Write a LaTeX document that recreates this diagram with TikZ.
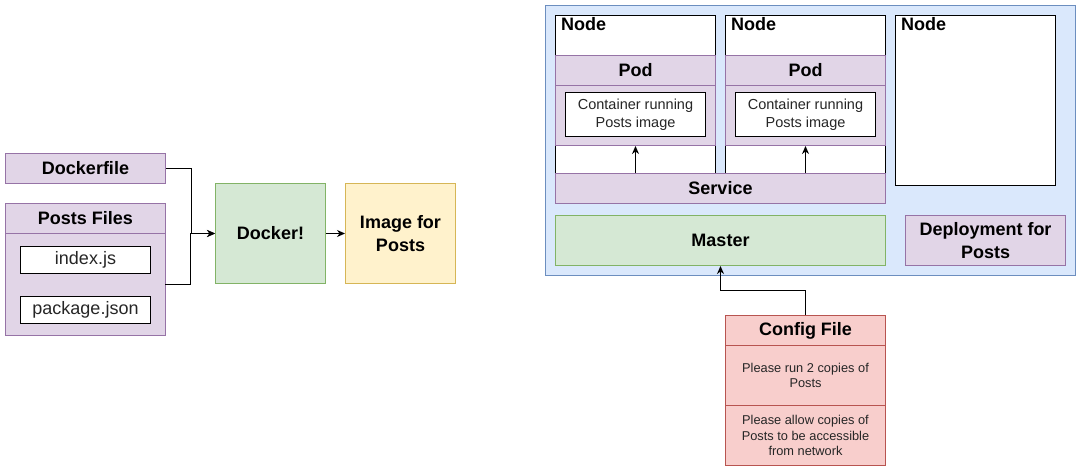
\documentclass[tikz,border=0pt]{standalone}
\usepackage{fontspec}
\setmainfont{Liberation Sans}
\usetikzlibrary{arrows.meta}

\definecolor{purpleFill}{HTML}{E1D5E7}
\definecolor{purpleLine}{HTML}{9673A6}
\definecolor{greenFill}{HTML}{D5E8D4}
\definecolor{greenLine}{HTML}{82B366}
\definecolor{yellowFill}{HTML}{FFF2CC}
\definecolor{yellowLine}{HTML}{D6B656}
\definecolor{blueFill}{HTML}{DAE8FC}
\definecolor{blueLine}{HTML}{6C8EBF}
\definecolor{redFill}{HTML}{F8CECC}
\definecolor{redLine}{HTML}{B85450}

\begin{document}
\begin{tikzpicture}[x=1pt,y=-1pt,
    box/.style={draw, line width=1pt, anchor=north west, inner sep=0pt, align=center,
        font=\fontsize{18}{22.5}\selectfont\bfseries},
    plain/.style={font=\fontsize{18}{22.5}\selectfont, text=black!85},
    small/.style={font=\fontsize{14.5}{18}\selectfont, text=black!85},
    tiny/.style={font=\fontsize{12.8}{15.5}\selectfont, text=black!85},
    purplebox/.style={box, fill=purpleFill, draw=purpleLine},
    greenbox/.style={box, fill=greenFill, draw=greenLine},
    yellowbox/.style={box, fill=yellowFill, draw=yellowLine},
    bluebox/.style={box, fill=blueFill, draw=blueLine},
    redbox/.style={box, fill=redFill, draw=redLine},
    whitebox/.style={box, fill=white, draw=black},
    nodebox/.style={whitebox, minimum width=160pt,
        label={[anchor=north west, inner xsep=6pt, inner ysep=2pt,
            font=\fontsize{18}{22.5}\selectfont\bfseries]north west:Node}},
    conn/.style={line width=1pt, -{Stealth[length=8pt,width=7pt,inset=2.5pt]}},
]
    \useasboundingbox (0,0) rectangle (1081,471);

    % build side
    \node[purplebox, minimum width=160pt, minimum height=30pt] (dockerfile) at (5,153) {Dockerfile};
    \node[purplebox, minimum width=160pt, minimum height=132pt] (files) at (5,203) {};
    \node[purplebox, minimum width=160pt, minimum height=30pt] (fileshead) at (5,203) {Posts Files};
    \node[whitebox, plain, minimum width=130pt, minimum height=27pt] (index) at (20,246) {index.js};
    \node[whitebox, plain, minimum width=130pt, minimum height=27pt] (package) at (20,296) {package.json};
    \coordinate (filesout) at (165,284);
    \node[greenbox, minimum width=110pt, minimum height=100pt] (docker) at (215,183) {Docker!};
    \node[yellowbox, minimum width=110pt, minimum height=100pt] (image) at (345,183) {Image for\\Posts};

    \draw[conn] (dockerfile.east) -- ++(25,0) |- (docker.west);
    \draw[conn] (filesout) -- ++(25,0) |- (docker.west);
    \draw[conn] (docker.east) -- (image.west);

    % cluster side
    \node[bluebox, minimum width=530pt, minimum height=270pt] (cluster) at (545,5) {};
    \node[nodebox, minimum height=158pt] (nodea) at (555,15) {};
    \node[nodebox, minimum height=158pt] (nodeb) at (725,15) {};
    \node[nodebox, minimum height=170pt] (nodec) at (895,15) {};

    \node[purplebox, minimum width=160pt, minimum height=90pt] (poda) at (555,55) {};
    \node[purplebox, minimum width=160pt, minimum height=30pt] (podahead) at (555,55) {Pod};
    \node[whitebox, small, minimum width=140pt, minimum height=44pt] (conta) at (565,92) {Container running\\Posts image};

    \node[purplebox, minimum width=160pt, minimum height=90pt] (podb) at (725,55) {};
    \node[purplebox, minimum width=160pt, minimum height=30pt] (podbhead) at (725,55) {Pod};
    \node[whitebox, small, minimum width=140pt, minimum height=44pt] (contb) at (735,92) {Container running\\Posts image};

    \node[purplebox, minimum width=330pt, minimum height=30pt] (service) at (555,173) {Service};
    \node[greenbox, minimum width=330pt, minimum height=50pt] (master) at (555,215) {Master};
    \node[purplebox, minimum width=160pt, minimum height=50pt] (deploy) at (905,215) {Deployment for\\Posts};

    \draw[conn] (poda.south |- service.north) -- (poda.south);
    \draw[conn] (podb.south |- service.north) -- (podb.south);

    % config file
    \node[redbox, minimum width=160pt, minimum height=30pt] (confhead) at (725,315) {Config File};
    \node[redbox, tiny, minimum width=160pt, minimum height=60pt] (confrun) at (725,345) {Please run 2 copies of\\Posts};
    \node[redbox, tiny, minimum width=160pt, minimum height=60pt] (confallow) at (725,405) {Please allow copies of\\Posts to be accessible\\from network};

    \draw[conn] (confhead.north) -- ++(0,-25) -| (master.south);
\end{tikzpicture}
\end{document}
